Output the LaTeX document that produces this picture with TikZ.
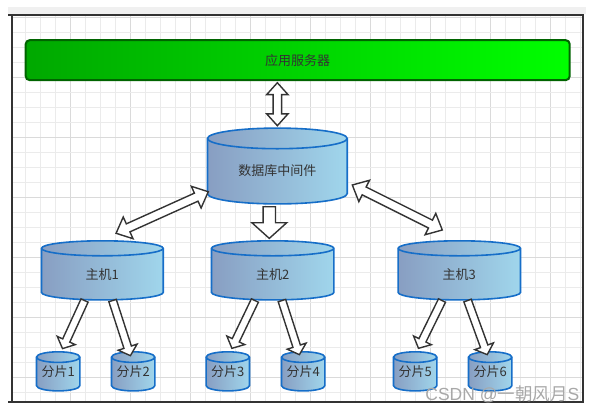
\documentclass[tikz,border=0pt]{standalone}
\usepackage{fontspec}
\newfontfamily\cjk{Noto Sans CJK SC}
\newfontfamily\arialish{Liberation Sans}
\usetikzlibrary{shapes.arrows,calc}
\definecolor{gridminor}{HTML}{EBEBEB}
\definecolor{gridmajor}{HTML}{DADADA}
\definecolor{framec}{HTML}{333333}
\definecolor{bandc}{HTML}{F0F0F0}
\definecolor{gL}{HTML}{00A800}
\definecolor{gR}{HTML}{00FF00}
\definecolor{gB}{HTML}{006400}
\definecolor{cylLc}{RGB}{136,158,194}
\definecolor{cylRc}{RGB}{160,214,236}
\definecolor{cylBc}{RGB}{22,110,200}
\definecolor{txt}{HTML}{333333}
\definecolor{wmc}{HTML}{A8A8A8}

\tikzset{
  cylbody/.style={draw=cylBc, line width=1.6pt, left color=cylLc, right color=cylRc},
  cylline/.style={draw=cylBc, line width=1.6pt},
  cylanchor/.style={rectangle, inner sep=0pt, outer sep=0pt, draw=none},
  lbl/.style={font=\cjk\fontsize{13}{15}\selectfont, text=txt, inner sep=0pt},
  appbox/.style={rectangle, rounded corners=4pt, draw=gB, line width=2pt, left color=gL, right color=gR,
    minimum width=544pt, minimum height=40pt, inner sep=0pt, font=\cjk\fontsize{13}{15}\selectfont, text=txt},
  fatbase/.style={draw=framec, fill=white, line width=1.4pt, inner xsep=0pt},
  dbldiag/.style={fatbase, double arrow, inner ysep=3.7pt, double arrow head extend=7.5pt,
    double arrow tip angle=84, minimum width=22.4pt},
  dblvert/.style={fatbase, double arrow, inner ysep=3.5pt, double arrow head extend=6.5pt,
    double arrow tip angle=84, minimum width=20pt},
  sngdown/.style={fatbase, single arrow, inner ysep=5.5pt, single arrow head extend=11.2pt,
    single arrow tip angle=96, minimum width=33.4pt},
  sngshard/.style={fatbase, single arrow, inner ysep=3.2pt, single arrow head extend=6pt,
    single arrow tip angle=96, minimum width=18.4pt},
  gridl/.style={draw=gridminor, line width=0.8pt},
  gridL/.style={draw=gridmajor, line width=0.8pt},
  framel/.style={draw=framec, line width=2pt},
}

% cylinder: name, left, top, right, bottom, ry, text, text dy
\newcommand\cyl[8]{%
  \pgfmathsetmacro\cylXl{#2+0.8}\pgfmathsetmacro\cylXr{#4-0.8}%
  \pgfmathsetmacro\cylYt{#3+0.8}\pgfmathsetmacro\cylYb{#5-0.8}%
  \pgfmathsetmacro\cylRx{(\cylXr-\cylXl)/2}\pgfmathsetmacro\cylRy{#6}%
  \pgfmathsetmacro\cylEt{\cylYt+\cylRy}\pgfmathsetmacro\cylEb{\cylYb-\cylRy}%
  \pgfmathsetmacro\cylW{#4-#2}\pgfmathsetmacro\cylH{#5-#3}%
  \path[cylbody] (\cylXl,\cylEt) -- (\cylXl,\cylEb)
     arc[start angle=180,end angle=360,x radius=\cylRx pt,y radius=\cylRy pt]
     -- (\cylXr,\cylEt)
     arc[start angle=0,end angle=180,x radius=\cylRx pt,y radius=\cylRy pt] -- cycle;
  \draw[cylline] (\cylXl,\cylEt)
     arc[start angle=180,end angle=360,x radius=\cylRx pt,y radius=\cylRy pt];
  \node[cylanchor, minimum width=\cylW pt, minimum height=\cylH pt] (#1) at ({(#2+#4)/2},{(#3+#5)/2}) {};
  \node[lbl] (#1t) at ($(#1.center)+(0,#8)$) {#7};
}

% fat arrows: style, name, from, to
\newcommand\fatsingle[4]{%
  \path let \p1=#3, \p2=#4, \n1={atan2(\y2-\y1,\x2-\x1)}, \n2={veclen(\x2-\x1,\y2-\y1)} in
    node[#1, rotate=\n1, minimum height=\n2, anchor=tail] (#2) at (\p1) {};}
\newcommand\fatdouble[4]{%
  \path let \p1=#3, \p2=#4, \n1={atan2(\y2-\y1,\x2-\x1)}, \n2={veclen(\x2-\x1,\y2-\y1)} in
    node[#1, rotate=\n1, minimum height=\n2] (#2) at ($(\p1)!0.5!(\p2)$) {};}

\begin{document}
\begin{tikzpicture}[x=1pt,y=-1pt]
\useasboundingbox (0,0) rectangle (594,413);
\fill[white] (0,0) rectangle (594,413);
\fill[bandc] (8,7) rectangle (586,14);

% grid
\foreach \i in {1,...,38}{
  \pgfmathtruncatemacro\m{mod(\i,4)}
  \ifnum\m=0 \draw[gridL] ({10.7+15*\i},16) -- ({10.7+15*\i},401);
  \else \draw[gridl] ({10.7+15*\i},16) -- ({10.7+15*\i},401); \fi
}
\foreach \j in {0,...,25}{
  \pgfmathtruncatemacro\m{mod(\j,4)}
  \ifnum\m=0 \draw[gridL] (13,{17.3+15*\j}) -- (582,{17.3+15*\j});
  \else \draw[gridl] (13,{17.3+15*\j}) -- (582,{17.3+15*\j}); \fi
}

% frame
\draw[framel] (8,15) -- (582.7,15);
\draw[framel] (8,402.3) -- (582.7,402.3);
\draw[framel] (12,15) -- (12,402.3);
\draw[framel] (582.7,14) -- (582.7,403.3);

% application server
\node[appbox] (app) at (297.7,60.15) {应用服务器};

% cylinders
\cyl{mw}{206.7}{127.3}{348}{204.7}{10.3}{数据库中间件}{4.5}
\cyl{h1}{40.7}{240}{164}{300.7}{7.5}{主机1}{4.5}
\cyl{h2}{210.7}{240}{334.7}{300.7}{7.5}{主机2}{4.5}
\cyl{h3}{397.3}{240}{521.3}{300.7}{7.5}{主机3}{4.5}
\cyl{s1}{35.7}{351}{80.7}{391.7}{5.3}{分片1}{0.5}
\cyl{s2}{110.7}{351}{155.7}{391.7}{5.3}{分片2}{0.5}
\cyl{s3}{205.3}{351}{250.3}{391.7}{5.3}{分片3}{0.5}
\cyl{s4}{280.7}{351}{325.7}{391.7}{5.3}{分片4}{0.5}
\cyl{s5}{392.7}{351}{437.7}{391.7}{5.3}{分片5}{0.5}
\cyl{s6}{467.7}{351}{512.7}{391.7}{5.3}{分片6}{0.5}

% arrows
\fatdouble{dblvert}{aapp}{($(app.south -| mw.north)+(0,1.6)$)}{($(mw.north)+(0,-1.6)$)}
\fatdouble{dbldiag}{ah1}{($(h1.north)+(13.7,-6.7)$)}{($(mw.south west)+(1.6,-13)$)}
\fatdouble{dbldiag}{ah3}{($(mw.south east)+(4.3,-19.7)$)}{($(h3.north)+(-17,-10)$)}
\fatsingle{sngdown}{ah2}{($(h2.north |- mw.south)+(-3.4,1.3)$)}{($(h2.north)+(-3.4,-2.3)$)}
\fatsingle{sngshard}{as1}{($(h1.south)+(-17.5,-0.8)$)}{($(s1.north)+(4.6,-3)$)}
\fatsingle{sngshard}{as2}{($(h1.south)+(10,-0.8)$)}{($(s2.north)+(-3,4)$)}
\fatsingle{sngshard}{as3}{($(h2.south)+(-17.5,-0.8)$)}{($(s3.north)+(4.4,-3.3)$)}
\fatsingle{sngshard}{as4}{($(h2.south)+(9,-0.8)$)}{($(s4.north)+(-4,3)$)}
\fatsingle{sngshard}{as5}{($(h3.south)+(-17,-0.8)$)}{($(s5.north)+(3.6,-3.3)$)}
\fatsingle{sngshard}{as6}{($(h3.south)+(8,-0.8)$)}{($(s6.north)+(-3.2,3)$)}

% watermark
\node[anchor=base east, inner sep=0pt, text=wmc] (wm) at (579.5,400.5)
  {\arialish\fontsize{17.5}{20}\selectfont CSDN @\cjk\fontsize{17.5}{20}\selectfont 一朝风月\arialish S};
\end{tikzpicture}
\end{document}
